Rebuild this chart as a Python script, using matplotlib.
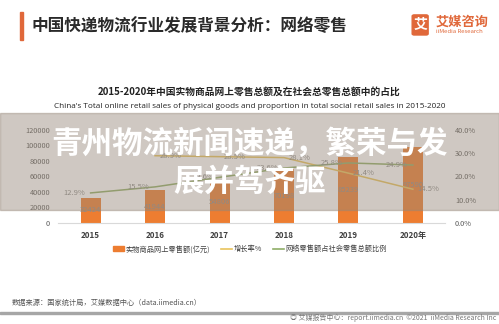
import matplotlib
matplotlib.use('Agg')
import numpy as np
import matplotlib.pyplot as plt
from matplotlib.patches import Rectangle, Patch, FancyBboxPatch
from matplotlib.lines import Line2D

plt.rcParams['font.family'] = ['Noto Sans CJK SC', 'DejaVu Sans']

# data
years = ['2015', '2016', '2017', '2018', '2019', '2020年']
sales = [32424, 41944, 54806, 70198, 85239, 97590]          # 实物商品网上零售额(亿元)
growth = [np.nan, 28.9, 28.5, 28.1, 21.4, 14.5]              # 增长率%
share = [12.9, 15.5, 19.6, 23.6, 25.8, 24.9]                 # 网络零售额占社会零售总额比例
left_ticks = [0, 20000, 40000, 60000, 80000, 100000, 120000]
right_ticks = [0, 10, 20, 30, 40]

orange = '#ED7D31'
yellow = '#E9C45C'
green = '#8FAE67'
grey = '#8C8C8C'

fig = plt.figure(figsize=(4.99, 3.24), dpi=100)

# header
fig.patches.append(Rectangle((0.040, 0.877), 0.007, 0.086, transform=fig.transFigure,
                             color='#E0683A', zorder=2))
fig.text(0.064, 0.921, '中国快递物流行业发展背景分析：网络零售', fontsize=12,
         fontweight='bold', color='#2a2a2a', va='center')
fig.patches.append(FancyBboxPatch((0.826, 0.892), 0.032, 0.062, transform=fig.transFigure,
                                  boxstyle='round,pad=0,rounding_size=0.004',
                                  color='#E0683A', zorder=2))
fig.text(0.842, 0.923, '艾', fontsize=10, fontweight='bold', color='white',
         ha='center', va='center', zorder=3)
fig.text(0.873, 0.932, '艾媒咨询', fontsize=9.5, fontweight='bold', color='#E0683A',
         va='center')
fig.text(0.874, 0.903, 'iiMedia Research', fontsize=4.3, color='#E0683A', va='center')

# chart titles
fig.text(0.5, 0.716, '2015-2020年中国实物商品网上零售总额及在社会总零售总额中的占比',
         fontsize=7, fontweight='bold', color='#222222', ha='center', va='center')
fig.text(0.5, 0.672, "China's Total online retail sales of physical goods and proportion "
         "in total social retail sales in 2015-2020", fontsize=5.85,
         family=['Open Sans', 'DejaVu Sans'], color='#222222', ha='center', va='center')

ax = fig.add_axes([0.117, 0.312, 0.775, 0.287])
x = np.arange(len(years))
bars = ax.bar(x, sales, width=0.31, color=orange, zorder=2)
for xi, v in zip(x, sales):
    ax.text(xi, v / 2, str(v), fontsize=5.5, color=grey, ha='center', va='center', zorder=4)

ax.set_xlim(-0.5, 5.5)
ax.set_ylim(0, 120000)
ax.set_yticks(left_ticks)
ax.set_yticklabels([str(t) for t in left_ticks])
ax.set_xticks(x)
ax.set_xticklabels(years)
ax.tick_params(axis='y', length=0, labelsize=5.3, labelcolor='#595959', pad=6)
ax.tick_params(axis='x', length=0, labelsize=5.8, labelcolor='#404040', pad=6)
for lab in ax.get_xticklabels():
    lab.set_fontweight('bold')
for s in ['top', 'left', 'right']:
    ax.spines[s].set_visible(False)
ax.spines['bottom'].set_color('#D9D9D9')

ax2 = ax.twinx()
ax2.set_ylim(0, 40)
ax2.set_yticks(right_ticks)
ax2.set_yticklabels(['%.1f%%' % t for t in right_ticks])
ax2.tick_params(axis='y', length=0, labelsize=5.3, labelcolor='#595959', pad=7)
for s in ['top', 'left', 'right', 'bottom']:
    ax2.spines[s].set_visible(False)
ax2.plot(x, growth, color=yellow, lw=1.1, zorder=3)
ax2.plot(x, share, color=green, lw=1.1, zorder=3)
for xi, v in zip(x, growth):
    if not np.isnan(v):
        ax2.annotate('%.1f%%' % v, (xi, v), xytext=(11, 0), textcoords='offset points',
                     fontsize=5.5, color=grey, ha='center', va='center')
for xi, v in zip(x, share):
    ax2.annotate('%.1f%%' % v, (xi, v), xytext=(-12, 0), textcoords='offset points',
                 fontsize=5.5, color=grey, ha='center', va='center')

handles = [Patch(color=orange), Line2D([], [], color=yellow, lw=1.2),
           Line2D([], [], color=green, lw=1.2)]
labels = ['实物商品网上零售额(亿元)', '增长率%', '网络零售额占社会零售总额比例']
fig.legend(handles, labels, loc='center', bbox_to_anchor=(0.501, 0.231), ncol=3,
           frameon=False, fontsize=5.2, handlelength=1.5, handletextpad=0.2,
           columnspacing=1.6, labelcolor='#404040')

# footer
fig.text(0.024, 0.066, '数据来源：国家统计局，艾媒数据中心（data.iimedia.cn）', fontsize=5.2,
         color='#555555', va='center')
fig.patches.append(Rectangle((0, 0.032), 1, 0.005, transform=fig.transFigure,
                             color='#A6A6A6', zorder=2))
fig.text(0.994, 0.018, '◎ 艾媒报告中心：report.iimedia.cn  ©2021  iiMedia Research Inc',
         fontsize=5.0, color='#777777', ha='right', va='center')

# overlay banner
fig.patches.append(Rectangle((0, 0.352), 1, 0.299, transform=fig.transFigure,
                             color=(150 / 255, 135 / 255, 120 / 255), alpha=0.45, zorder=10))
fig.text(0.5, 0.556, '青州物流新闻速递，繁荣与发', fontsize=22, fontweight='bold',
         color='white', ha='center', va='center', zorder=11)
fig.text(0.5, 0.438, '展并驾齐驱', fontsize=22, fontweight='bold',
         color='white', ha='center', va='center', zorder=11)

fig.savefig('out.png', dpi=100)
